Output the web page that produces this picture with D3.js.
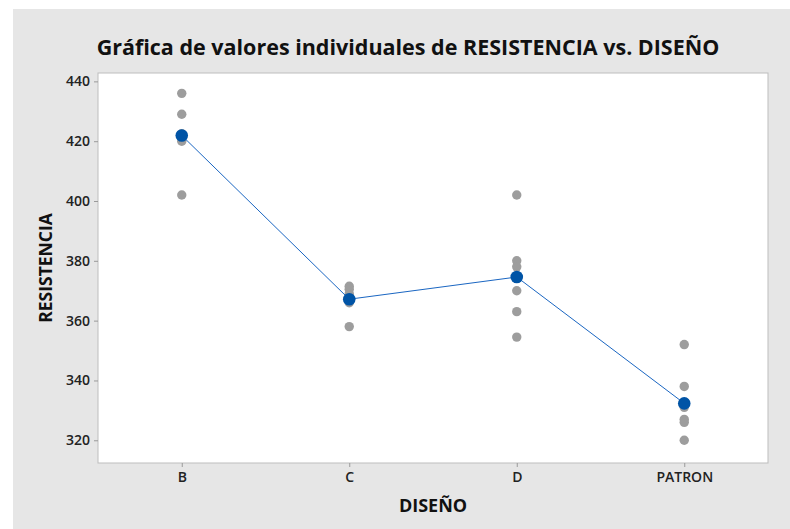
<!DOCTYPE html>
<html>
<head>
<meta charset="utf-8">
<script src="https://cdn.jsdelivr.net/npm/d3@7"></script>
<style>
  body { margin: 0; background: #ffffff; }
  svg { display: block; font-family: "Open Sans", "Noto Sans", sans-serif; }
</style>
</head>
<body>
<svg id="chart" width="790" height="529"></svg>
<script>
// data
const disenos = ["B", "C", "D", "PATRON"];
const resB = [436, 429, 422.5, 422, 420, 402];
const resC = [371.5, 370.5, 369, 368, 366, 358];
const resD = [402, 380, 378, 370, 363, 354.5];
const resPatron = [352, 338, 331, 327, 326, 320];
const yTicks = [320, 340, 360, 380, 400, 420, 440];

const width = 790, height = 529;
const margin = {top: 73, right: 22, bottom: 66, left: 98};

const svg = d3.select("#chart");

// gray panel
svg.append("rect")
    .attr("x", 13).attr("y", 9)
    .attr("width", width - 13).attr("height", height - 9)
    .attr("fill", "#e6e6e6");

// plot area
svg.append("rect")
    .attr("x", margin.left).attr("y", margin.top)
    .attr("width", width - margin.left - margin.right)
    .attr("height", height - margin.top - margin.bottom)
    .attr("fill", "white")
    .attr("stroke", "#bdbdbd")
    .attr("stroke-width", 1);

const xScale = d3.scalePoint()
    .domain(disenos)
    .range([margin.left, width - margin.right])
    .padding(0.5);

const yScale = d3.scaleLinear()
    .domain([312.4, 442.8])
    .range([height - margin.bottom, margin.top]);

// axes
const xAxis = d3.axisBottom(xScale).tickSize(4).tickPadding(5);
const gx = svg.append("g")
    .attr("transform", `translate(0,${height - margin.bottom})`)
    .call(xAxis);

const yAxis = d3.axisLeft(yScale).tickValues(yTicks).tickSize(4).tickPadding(4);
const gy = svg.append("g")
    .attr("transform", `translate(${margin.left},0)`)
    .call(yAxis);

[gx, gy].forEach(g => {
    g.select(".domain").remove();
    g.selectAll(".tick line").attr("stroke", "#9a9a9a");
    g.selectAll(".tick text")
        .attr("fill", "#222")
        .attr("font-size", "14px")
        .attr("font-weight", "600")
        .attr("font-family", "\"Open Sans\", \"Noto Sans\", sans-serif");
});

// individual values
const groups = [
    {name: "B", values: resB},
    {name: "C", values: resC},
    {name: "D", values: resD},
    {name: "PATRON", values: resPatron}
];

const points = groups.flatMap(g => g.values.map(v => ({name: g.name, value: v})));

svg.selectAll(".dot")
    .data(points)
    .enter().append("circle")
    .attr("class", "dot")
    .attr("cx", d => xScale(d.name))
    .attr("cy", d => yScale(d.value))
    .attr("r", 4.7)
    .attr("fill", "#9d9d9d");

// mean line + mean symbols
const means = groups.map(g => ({name: g.name, value: d3.mean(g.values)}));

const line = d3.line()
    .x(d => xScale(d.name))
    .y(d => yScale(d.value));

svg.append("path")
    .datum(means)
    .attr("fill", "none")
    .attr("stroke", "#1a66c2")
    .attr("stroke-width", 1)
    .attr("d", line);

svg.selectAll(".mean")
    .data(means)
    .enter().append("circle")
    .attr("class", "mean")
    .attr("cx", d => xScale(d.name))
    .attr("cy", d => yScale(d.value))
    .attr("r", 6.3)
    .attr("fill", "#0054a6");

// titles
svg.append("text")
    .attr("x", 408)
    .attr("y", 55)
    .attr("text-anchor", "middle")
    .attr("font-size", "21.5px")
    .attr("font-weight", "bold")
    .attr("fill", "#111")
    .text("Gráfica de valores individuales de RESISTENCIA vs. DISEÑO");

svg.append("text")
    .attr("x", (margin.left + width - margin.right) / 2)
    .attr("y", 512)
    .attr("text-anchor", "middle")
    .attr("font-size", "18px")
    .attr("font-weight", "bold")
    .attr("fill", "#111")
    .text("DISEÑO");

svg.append("text")
    .attr("transform", `translate(52,${(margin.top + height - margin.bottom) / 2}) rotate(-90)`)
    .attr("text-anchor", "middle")
    .attr("font-size", "17.5px")
    .attr("font-weight", "bold")
    .attr("fill", "#111")
    .text("RESISTENCIA");
</script>
</body>
</html>
